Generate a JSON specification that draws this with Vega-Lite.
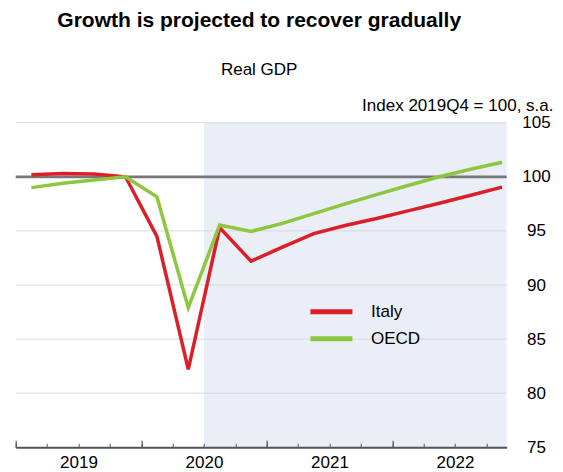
{
  "$schema": "https://vega.github.io/schema/vega-lite/v6.json",
  "width": 491,
  "height": 324.6,
  "autosize": {"type": "none"},
  "padding": {"left": 15.7, "top": 122.7, "right": 56.3, "bottom": 24.7},
  "background": "white",
  "config": {
    "font": "Liberation Sans",
    "view": {"stroke": null},
    "axis": {"labelColor": "black", "titleColor": "black", "labelFont": "Liberation Sans", "titleFont": "Liberation Sans"}
  },
  "title": {
    "text": "Growth is projected to recover gradually",
    "subtitle": "Real GDP",
    "anchor": "middle",
    "frame": "group",
    "dx": -2,
    "font": "Liberation Sans",
    "fontSize": 21,
    "fontWeight": "bold",
    "color": "black",
    "subtitleFont": "Liberation Sans",
    "subtitleFontSize": 17,
    "subtitleColor": "black",
    "subtitlePadding": 31,
    "offset": 18
  },
  "datasets": {
    "proj": [{"start": 2020.5, "end": 2022.912}],
    "grid": [{"level": 80}, {"level": 85}, {"level": 90}, {"level": 95}, {"level": 105}],
    "base": [{"level": 100, "from": 2019, "to": 2022.912}],
    "gdp": [
      {"quarter": "2019Q1", "t": 2019.125, "series": "Italy", "value": 100.2},
      {"quarter": "2019Q2", "t": 2019.375, "series": "Italy", "value": 100.3},
      {"quarter": "2019Q3", "t": 2019.625, "series": "Italy", "value": 100.25},
      {"quarter": "2019Q4", "t": 2019.875, "series": "Italy", "value": 100.0},
      {"quarter": "2020Q1", "t": 2020.125, "series": "Italy", "value": 94.5},
      {"quarter": "2020Q2", "t": 2020.375, "series": "Italy", "value": 82.2},
      {"quarter": "2020Q3", "t": 2020.625, "series": "Italy", "value": 95.3},
      {"quarter": "2020Q4", "t": 2020.875, "series": "Italy", "value": 92.2},
      {"quarter": "2021Q1", "t": 2021.125, "series": "Italy", "value": 93.5},
      {"quarter": "2021Q2", "t": 2021.375, "series": "Italy", "value": 94.75},
      {"quarter": "2021Q3", "t": 2021.625, "series": "Italy", "value": 95.5},
      {"quarter": "2021Q4", "t": 2021.875, "series": "Italy", "value": 96.15},
      {"quarter": "2022Q1", "t": 2022.125, "series": "Italy", "value": 96.85},
      {"quarter": "2022Q2", "t": 2022.375, "series": "Italy", "value": 97.55},
      {"quarter": "2022Q3", "t": 2022.625, "series": "Italy", "value": 98.3},
      {"quarter": "2022Q4", "t": 2022.875, "series": "Italy", "value": 99.05},
      {"quarter": "2019Q1", "t": 2019.125, "series": "OECD", "value": 99.0},
      {"quarter": "2019Q2", "t": 2019.375, "series": "OECD", "value": 99.4},
      {"quarter": "2019Q3", "t": 2019.625, "series": "OECD", "value": 99.7},
      {"quarter": "2019Q4", "t": 2019.875, "series": "OECD", "value": 100.0},
      {"quarter": "2020Q1", "t": 2020.125, "series": "OECD", "value": 98.15},
      {"quarter": "2020Q2", "t": 2020.375, "series": "OECD", "value": 87.9},
      {"quarter": "2020Q3", "t": 2020.625, "series": "OECD", "value": 95.55},
      {"quarter": "2020Q4", "t": 2020.875, "series": "OECD", "value": 94.95},
      {"quarter": "2021Q1", "t": 2021.125, "series": "OECD", "value": 95.7},
      {"quarter": "2021Q2", "t": 2021.375, "series": "OECD", "value": 96.6},
      {"quarter": "2021Q3", "t": 2021.625, "series": "OECD", "value": 97.5},
      {"quarter": "2021Q4", "t": 2021.875, "series": "OECD", "value": 98.35},
      {"quarter": "2022Q1", "t": 2022.125, "series": "OECD", "value": 99.2},
      {"quarter": "2022Q2", "t": 2022.375, "series": "OECD", "value": 100.0},
      {"quarter": "2022Q3", "t": 2022.625, "series": "OECD", "value": 100.7},
      {"quarter": "2022Q4", "t": 2022.875, "series": "OECD", "value": 101.35}
    ]
  },
  "layer": [
    {
      "data": {"name": "proj"},
      "mark": {"type": "rect", "color": "#EAEEF6"},
      "encoding": {
        "x": {
          "field": "start", "type": "quantitative",
          "scale": {"domain": [2019, 2022.912], "nice": false, "zero": false},
          "axis": {
            "orient": "bottom",
            "values": [2019, 2019.25, 2019.5, 2019.75, 2020, 2020.25, 2020.5, 2020.75, 2021, 2021.25, 2021.5, 2021.75, 2022, 2022.25, 2022.5, 2022.75],
            "tickSize": -4, "tickColor": "#555555", "tickWidth": 1,
            "labels": false, "domain": true, "domainColor": "#555555", "domainWidth": 2,
            "grid": false, "title": null, "zindex": 1
          }
        },
        "x2": {"field": "end"}
      }
    },
    {
      "data": {"name": "grid"},
      "mark": {"type": "rule", "color": "#D9D9D9", "strokeWidth": 1},
      "encoding": {
        "y": {
          "field": "level", "type": "quantitative",
          "scale": {"domain": [75, 105], "nice": false, "zero": false},
          "axis": {
            "orient": "right",
            "values": [75, 80, 85, 90, 95, 100, 105],
            "domain": false, "ticks": false, "tickSize": 0, "grid": false,
            "labelAlign": "center", "labelBaseline": "middle", "labelPadding": 29.3,
            "labelFontSize": 17, "labelFlush": false, "labelOverlap": false, "labelBound": false,
            "title": "Index 2019Q4 = 100, s.a.",
            "titleAngle": 0, "titleAlign": "right", "titleBaseline": "alphabetic",
            "titleX": 46.3, "titleY": -12.5, "titleFontSize": 17, "titleFontWeight": "normal"
          }
        }
      }
    },
    {
      "data": {"name": "base"},
      "mark": {"type": "rule", "color": "#777777", "strokeWidth": 2.8},
      "encoding": {
        "x": {
          "field": "from", "type": "quantitative",
          "scale": {"domain": [2019, 2022.912], "nice": false, "zero": false},
          "axis": {
            "orient": "bottom",
            "values": [2019, 2020, 2021, 2022],
            "tickSize": -7, "tickColor": "#555555", "tickWidth": 1.2,
            "labels": false, "domain": false, "grid": false, "title": null, "zindex": 1
          }
        },
        "x2": {"field": "to"},
        "y": {"field": "level", "type": "quantitative", "scale": {"domain": [75, 105], "nice": false, "zero": false}}
      }
    },
    {
      "data": {"name": "gdp"},
      "mark": {"type": "line", "strokeWidth": 3.5},
      "encoding": {
        "x": {
          "field": "t", "type": "quantitative",
          "scale": {"domain": [2019, 2022.912], "nice": false, "zero": false},
          "axis": {
            "orient": "bottom",
            "values": [2019.5, 2020.5, 2021.5, 2022.5],
            "labelExpr": "floor(datum.value) + ''",
            "ticks": false, "tickSize": 0, "domain": false, "grid": false,
            "labelFontSize": 17, "labelPadding": 7,
            "labelFlush": false, "labelOverlap": false, "labelBound": false,
            "title": null
          }
        },
        "y": {"field": "value", "type": "quantitative", "scale": {"domain": [75, 105], "nice": false, "zero": false}},
        "color": {
          "field": "series", "type": "nominal",
          "scale": {"domain": ["Italy", "OECD"], "range": ["#DC1F26", "#8DC63F"]},
          "legend": {
            "orient": "none", "legendX": 302.7, "legendY": 176,
            "title": null, "padding": 0,
            "symbolType": "M-2,0H2", "symbolSize": 441, "symbolStrokeWidth": 5,
            "labelFontSize": 17, "labelFont": "Liberation Sans", "labelColor": "black",
            "labelOffset": 26.6, "rowPadding": 4
          }
        }
      }
    }
  ],
  "resolve": {"axis": {"x": "independent"}}
}
